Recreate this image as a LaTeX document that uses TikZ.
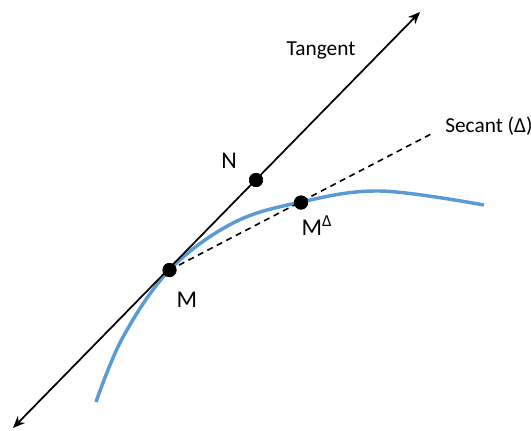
\documentclass[tikz,border=0pt]{standalone}
\usepackage{fontspec}
\setmainfont{Carlito}
\usetikzlibrary{arrows.meta}
\definecolor{curveblue}{HTML}{5B9BD5}
\begin{document}
\begin{tikzpicture}[x=0.75pt,y=-0.75pt,
 dot/.style={circle,fill=black,inner sep=0pt,minimum size=10.5pt},
 lbl/.style={font=\fontsize{18}{21}\selectfont,anchor=base,inner sep=0pt},
 small/.style={font=\fontsize{16}{19}\selectfont,anchor=base,inner sep=0pt},
 tangentline/.style={line width=1.3pt,{Stealth[length=9pt,width=7.5pt]}-{Stealth[length=9pt,width=7.5pt]}},
 secantline/.style={line width=1.2pt,dash pattern=on 4.5pt off 3.5pt},
 curve/.style={curveblue,line width=2.6pt}]
\useasboundingbox (0,0) rectangle (531,430);
\draw[curve] plot[smooth,tension=0.6] coordinates {(96,402) (123,337) (169.5,270) (233,223) (301,202) (380,191) (484,205)};
\coordinate (T1) at (13,428);
\coordinate (T2) at (420,12);
\coordinate (S2) at (433,133);
\node[dot] (M) at (169.5,270) {};
\node[dot] (N) at (256,180) {};
\node[dot] (MD) at (301,202.5) {};
\draw[tangentline] (T1) -- (T2);
\draw[secantline] (M.center) -- (S2);
\node[dot] at (M) {};
\node[dot] at (N) {};
\node[dot] at (MD) {};
\node[small] (tlab) at (321,55) {Tangent};
\node[small] (slab) at (489,132) {Secant (Δ)};
\node[lbl] (nlab) at (229,168) {N};
\node[lbl] (mlab) at (187,307) {M};
\node[lbl] (mdlab) at (317,235) {M\textsuperscript{Δ}};
\end{tikzpicture}
\end{document}
